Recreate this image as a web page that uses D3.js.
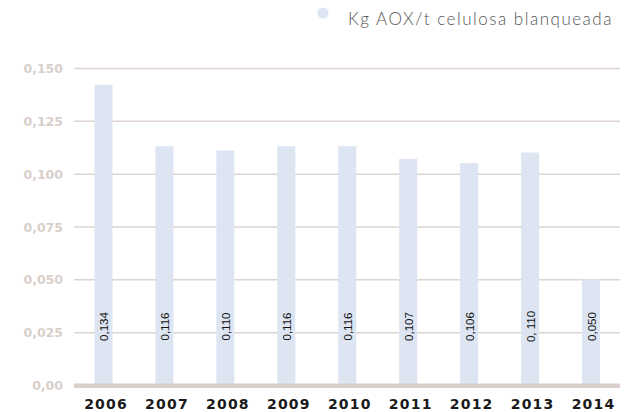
<!DOCTYPE html>
<html>
<head>
<meta charset="utf-8">
<script src="https://cdn.jsdelivr.net/npm/d3@7"></script>
<style>
  body { margin: 0; background: #fff; }
  svg { display: block; }
</style>
</head>
<body>
<svg width="633" height="412"></svg>
<script>
// data
const years = ["2006", "2007", "2008", "2009", "2010", "2011", "2012", "2013", "2014"];
const barValues = [0.142, 0.113, 0.111, 0.113, 0.113, 0.107, 0.105, 0.110, 0.050];
const barLabels = ["0,134", "0,116", "0,110", "0,116", "0,116", "0,107", "0,106", "0, 110", "0,050"];
const yTicks = [0, 0.025, 0.05, 0.075, 0.1, 0.125, 0.15];
const yTickLabels = ["0,00", "0,025", "0,050", "0,075", "0,100", "0,125", "0,150"];
const seriesName = "Kg AOX/t celulosa blanqueada";

const svg = d3.select("svg");
const plotLeft = 74, plotRight = 620, plotTop = 68, plotBottom = 385;

const x = d3.scalePoint().domain(years).range([103.5, 591]);
const y = d3.scaleLinear().domain([0, 0.15]).range([plotBottom, plotTop]);
const barW = 18;

// grid + y labels
const yAxis = svg.append("g")
    .attr("transform", `translate(${plotLeft},0)`)
    .call(d3.axisLeft(y)
        .tickValues(yTicks)
        .tickSize(-(plotRight - plotLeft))
        .tickPadding(11)
        .tickFormat((d, i) => yTickLabels[i]));
yAxis.select(".domain").remove();
yAxis.selectAll(".tick line")
    .attr("stroke", "#ddd3cf")
    .attr("stroke-width", 1.5)
    .filter(d => d === 0).remove();
yAxis.selectAll(".tick text")
    .attr("fill", "#d9cfca")
    .style("font-family", "'DejaVu Sans', sans-serif")
    .style("font-weight", "bold")
    .style("font-size", "12.5px")
    .attr("dy", "0.36em");

// bars
svg.selectAll(".bar")
    .data(years)
    .enter().append("rect")
    .attr("class", "bar")
    .attr("x", d => x(d) - barW / 2)
    .attr("y", (d, i) => y(barValues[i]))
    .attr("width", barW)
    .attr("height", (d, i) => y(0) - y(barValues[i]))
    .attr("fill", "#dce5f1");

// baseline
svg.append("rect")
    .attr("x", plotLeft)
    .attr("y", y(0) - 1.5)
    .attr("width", plotRight - plotLeft)
    .attr("height", 4.5)
    .attr("fill", "#d9d0cc");

// value labels, rotated
svg.selectAll(".val")
    .data(years)
    .enter().append("text")
    .attr("class", "val")
    .attr("transform", d => `translate(${x(d) + 4.5},326.5) rotate(-90)`)
    .attr("text-anchor", "middle")
    .style("font-family", "'Liberation Sans Narrow', 'Arial Narrow', sans-serif")
    .style("font-size", "11.5px")
    .attr("fill", "#111")
    .text((d, i) => barLabels[i]);

// x axis years
const xAxis = svg.append("g")
    .attr("transform", `translate(2,${plotBottom + 3})`)
    .call(d3.axisBottom(x).tickSize(0).tickPadding(0));
xAxis.select(".domain").remove();
xAxis.selectAll(".tick text")
    .attr("y", 21)
    .attr("dy", 0)
    .attr("fill", "#1a1a1a")
    .style("font-family", "'DejaVu Sans', sans-serif")
    .style("font-weight", "bold")
    .style("font-size", "14px")
    .style("letter-spacing", "1.2px");

// legend
svg.append("circle")
    .attr("cx", 323)
    .attr("cy", 13)
    .attr("r", 5.5)
    .attr("fill", "#dce5f1");
svg.append("text")
    .attr("x", 348)
    .attr("y", 25)
    .attr("fill", "#555")
    .style("font-family", "Lato, sans-serif")
    .style("font-weight", "300")
    .style("font-size", "17px")
    .style("letter-spacing", "1.5px")
    .text(seriesName);
</script>
</body>
</html>
